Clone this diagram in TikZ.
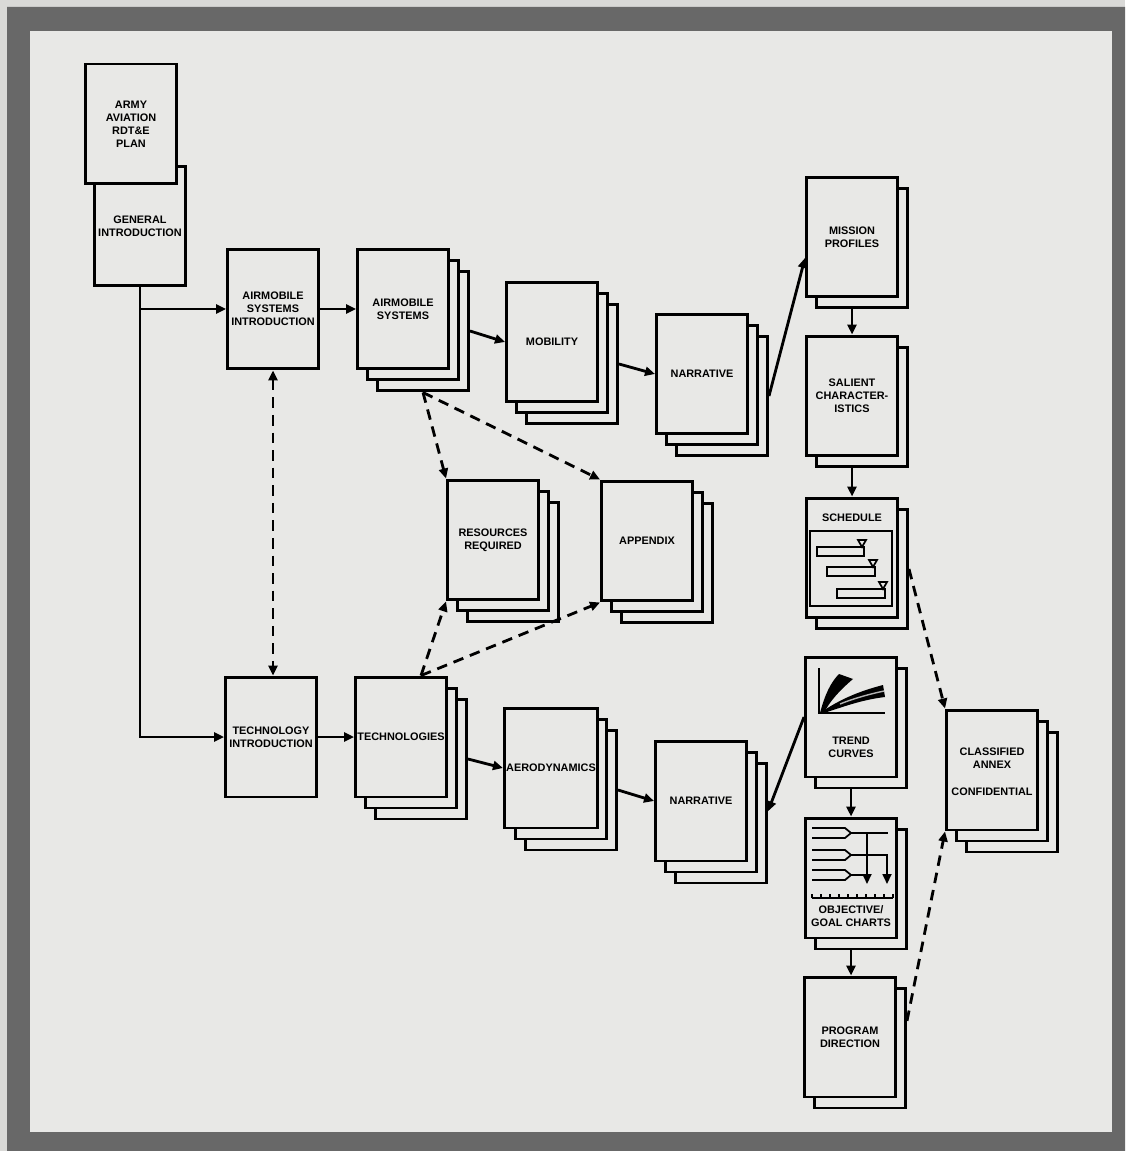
\documentclass[tikz,border=0pt]{standalone}
\usepackage{fontspec}
\setmainfont{Liberation Sans}
\usetikzlibrary{arrows.meta, positioning, calc}
\definecolor{paper}{HTML}{E8E8E6}
\definecolor{outside}{HTML}{D9D9D7}
\definecolor{frame}{HTML}{686868}
\tikzset{
  >={Triangle[length=2mm,width=1.8mm]},
  sheet/.style={draw, line width=1.7pt, fill=paper, minimum width=1.82cm,
    minimum height=2.4cm, inner sep=1pt, align=center,
    font=\bfseries\fontsize{6.2}{7.4}\selectfont},
  lbl/.style={font=\bfseries\fontsize{6.2}{7.4}\selectfont, inner sep=0pt, align=center},
  flow/.style={line width=1.6pt, ->},
  link/.style={flow, dash pattern=on 6pt off 4pt},
  thin/.style={line width=1pt},
}
% stack of pages: name, x, y, back sheets, text
\newcommand{\docstack}[5]{%
  \foreach \k in {#4,...,1}{%
    \node[sheet] (#1-b\k) at ($(#2,#3)+(\k*10,\k*11)$) {};}
  \node[sheet] (#1) at (#2,#3) {#5};}

\begin{document}
\begin{tikzpicture}[x=0.02cm, y=-0.02cm]
  \useasboundingbox (0,0) rectangle (1125,1151);
  \fill[outside] (0,0) rectangle (1125,1151);
  \fill[frame, even odd rule] (7,7) rectangle (1125,1151) (30,31) rectangle (1112,1132);
  \fill[paper] (30,31) rectangle (1112,1132);

  % left column
  \node[sheet] (genintro) at (140,226) {GENERAL\\INTRODUCTION};
  \node[sheet] (plan) at (131,124) {ARMY\\AVIATION\\RDT\&E\\PLAN};
  \node[sheet] (asintro) at (273,309) {AIRMOBILE\\SYSTEMS\\INTRODUCTION};
  \node[sheet] (techintro) at (271,737) {TECHNOLOGY\\INTRODUCTION};

  % airmobile systems branch
  \docstack{airsys}{403}{309}{2}{AIRMOBILE\\SYSTEMS}
  \docstack{mobility}{552}{342}{2}{MOBILITY}
  \docstack{narrA}{702}{374}{2}{NARRATIVE}

  % technology branch
  \docstack{techs}{401}{737}{2}{TECHNOLOGIES}
  \docstack{aero}{551}{768}{2}{AERODYNAMICS}
  \docstack{narrB}{701}{801}{2}{NARRATIVE}

  % shared volumes
  \docstack{resources}{493}{540}{2}{RESOURCES\\REQUIRED}
  \docstack{appendix}{647}{541}{2}{APPENDIX}

  % right column
  \docstack{mission}{852}{237}{1}{MISSION\\PROFILES}
  \docstack{salient}{852}{396}{1}{SALIENT\\CHARACTER-\\ISTICS}
  \docstack{schedule}{852}{558}{1}{}
  \docstack{trend}{851}{717}{1}{}
  \docstack{objective}{851}{878}{1}{}
  \docstack{program}{850}{1037}{1}{PROGRAM\\DIRECTION}
  \docstack{annex}{992}{770}{2}{}

  \node[lbl] (schedlbl) at (852,518) {SCHEDULE};
  \node[lbl] (trendlbl) at (851,747) {TREND\\CURVES};
  \node[lbl] (objlbl) at (851,916) {OBJECTIVE/\\GOAL CHARTS};
  \node[lbl] (annexlbl) at (992,772) {CLASSIFIED\\ANNEX\\[8pt]CONFIDENTIAL};

  % schedule sketch
  \draw[thin] (810,531) rectangle (892,606);
  \draw[thin] (817,547) rectangle (864,556);
  \draw[thin] (827,567) rectangle (875,576);
  \draw[thin] (837,589) rectangle (885,598);
  \foreach \mx/\my in {862/547, 873/567, 883/589}
    \draw[thin, fill=paper] (\mx,\my) -- ++(-4,-7) -- ++(8,0) -- cycle;

  % trend curve sketch
  \draw[thin] (819,668) -- (819,713) -- (885,713);
  \fill (820,713) .. controls (825,694) and (831,682) .. (839,674)
    -- (853,679) .. controls (840,690) and (829,702) .. (824,713) -- cycle;
  \fill (820,713) .. controls (840,699) and (860,691) .. (883,685)
    -- (885,697) .. controls (860,700) and (840,708) .. (824,713) -- cycle;
  \draw[gray!60, line width=0.8pt] (840,704) .. controls (855,698) and (870,694) .. (884,691);

  % objective chart sketch
  \foreach \fy in {833, 855, 875}
    \draw[thin] (812,\fy-5) -- (845,\fy-5) -- (851,\fy) -- (845,\fy+5) -- (812,\fy+5);
  \draw[thin] (851,833) -- (888,833);
  \draw[thin, ->] (851,855) -- (887,855) -- (887,884);
  \draw[thin] (851,875) -- (867,875);
  \draw[thin, ->] (867,833) -- (867,884);
  \draw[thin] (812,898) -- (893,898);
  \foreach \t in {0,...,9}
    \draw[thin] (812+\t*9,898) -- ++(0,-4);

  % connectors
  \draw[flow] (genintro.south) |- (techintro.west);
  \draw[flow] (genintro.south |- asintro.west) -- (asintro.west);
  \draw[flow] (asintro.east) -- (airsys.west);
  \draw[link, <->] (asintro.south) -- (asintro.south |- techintro.north);
  \draw[flow] (techintro.east) -- (techs.west);
  \draw[flow] (airsys-b2.east) -- (mobility.west);
  \draw[flow] (mobility-b2.east) -- (narrA.west);
  \draw[flow] (narrA-b2.east) -- (mission.204);
  \draw[flow] (techs-b2.east) -- (aero.west);
  \draw[flow] (aero-b2.east) -- (narrB.west);
  \draw[flow] (trend.west) -- (narrB-b2.14);
  \draw[flow] (mission.south |- mission-b1.south) -- (salient.north);
  \draw[flow] (salient.south |- salient-b1.south) -- (schedule.north);
  \draw[flow] (trend.south |- trend-b1.south) -- (objective.north);
  \draw[flow] (objective.south |- objective-b1.south) -- (objective.south |- program.north);

  \draw[link] (airsys-b2.south) -- (resources.north west);
  \draw[link] (airsys-b2.south) -- (appendix.north west);
  \draw[link] (techs.north -| techs-b2.center) -- (resources.south west);
  \draw[link] (techs.north -| techs-b2.center) -- (appendix.south west);
  \draw[link] (schedule-b1.east) -- (annex.north west);
  \draw[link] (program-b1.30) -- (annex.south west);
\end{tikzpicture}
\end{document}
